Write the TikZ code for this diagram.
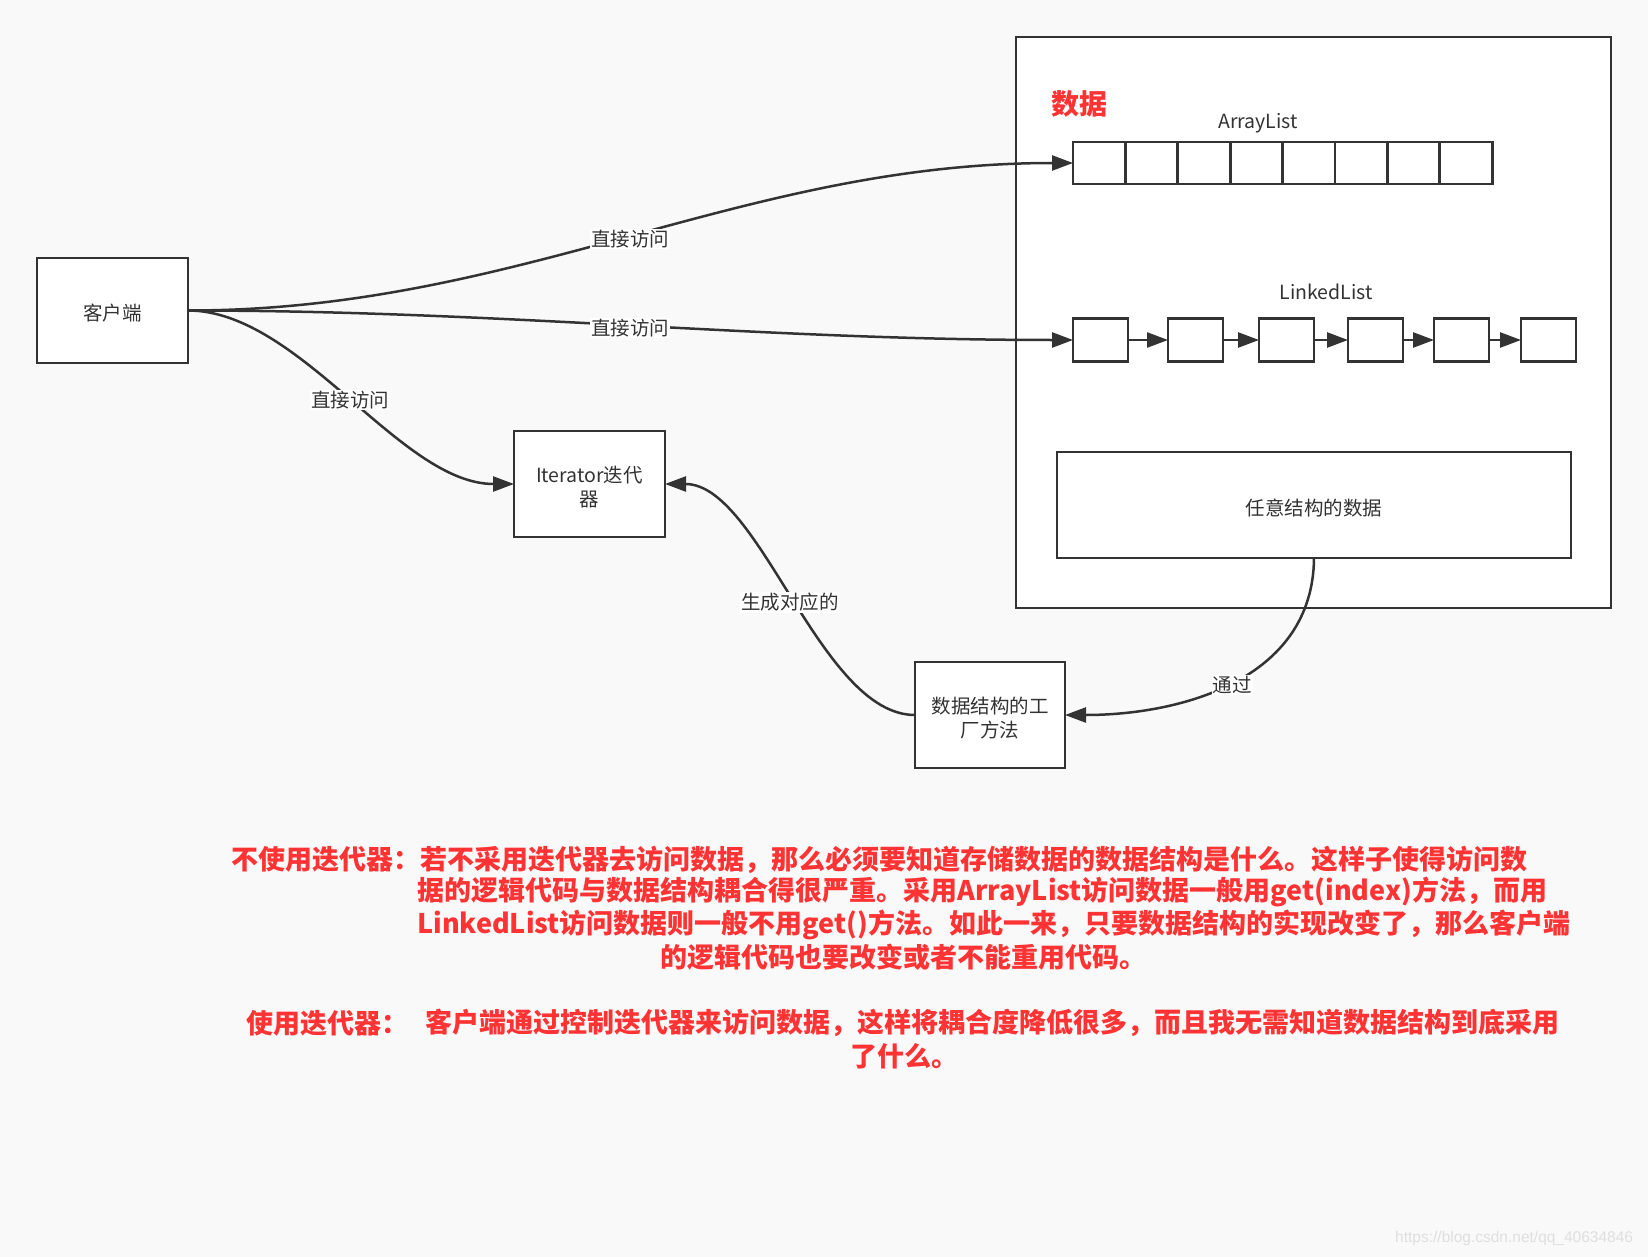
\documentclass[tikz,border=0pt]{standalone}
\usepackage{fontspec}
\setmainfont{Noto Sans CJK SC}
\newfontfamily\wmfont{Liberation Sans}
\usetikzlibrary{arrows.meta}
\definecolor{bgc}{HTML}{F9F9F9}
\definecolor{linec}{HTML}{333333}
\definecolor{redt}{HTML}{FF3333}
\newcommand\lowtxt[1]{\raisebox{-3pt}[\height][\depth]{#1}}
\begin{document}
\begin{tikzpicture}[x=1pt,y=-1pt,
  box/.style={draw=linec,fill=white,line width=2.9pt,inner sep=0pt,outer sep=0pt,
    font=\fontsize{19.5}{23.4}\selectfont,text=linec,align=center},
  cell/.style={draw=linec,fill=white,line width=2.9pt,inner sep=0pt,outer sep=0pt,
    minimum height=42pt},
  edge/.style={draw=linec,line width=2.5pt,-{Triangle[length=21pt,width=15pt]}},
  lab/.style={fill=white,inner sep=1pt,font=\fontsize{19.5}{23.4}\selectfont,text=linec},
  plain/.style={font=\fontsize{19.5}{23.4}\selectfont,text=linec,inner sep=0pt},
  redtext/.style={font=\fontsize{27}{32}\selectfont\bfseries,text=redt,inner sep=0pt,anchor=west}]
\useasboundingbox (0,0) rectangle (1648,1257);
\fill[bgc] (0,0) rectangle (1648,1257);

% data container
\node[box,minimum width=595pt,minimum height=571pt] (outer) at (1313.5,322.5) {};
\node[font=\fontsize{28}{32}\selectfont\bfseries,text=redt,inner sep=0pt,anchor=west] (title) at (1051,104) {数据};
\node[plain] (altitle) at (1258,123) {ArrayList};
\node[plain] (lltitle) at (1326,292) {LinkedList};

% ArrayList cells
\foreach \i in {1,...,8}{
  \node[cell,minimum width=52.4pt] (a\i) at ({1073+26.2+52.4*(\i-1)},163) {};
}
% LinkedList nodes
\foreach \x [count=\i] in {1073,1168,1259,1348,1434,1521}{
  \node[cell,minimum width=55pt,minimum height=43pt] (l\i) at ({\x+27.5},340) {};
}
\foreach \i/\j in {1/2,2/3,3/4,4/5,5/6}{
  \draw[edge] (l\i.east) -- (l\j.west);
}

\node[box,minimum width=514pt,minimum height=106pt] (any) at (1314,505) {\lowtxt{任意结构的数据}};

% other boxes
\node[box,minimum width=151pt,minimum height=105pt] (client) at (112.5,310.5) {\lowtxt{客户端}};
\node[box,minimum width=151pt,minimum height=106pt] (iter) at (589.5,484) {\lowtxt{Iterator迭代}\\\lowtxt{器}};
\node[box,minimum width=150pt,minimum height=106pt] (fact) at (990,715) {\lowtxt{数据结构的工}\\\lowtxt{厂方法}};

% connectors
\draw[edge] (client.east) .. controls (520,310.5) and (740,163) .. (a1.west)
  node[lab,pos=0.5,yshift=-2pt] (lb1) {直接访问};
\draw[edge] (client.east) .. controls (500,310.5) and (760,340) .. (l1.west)
  node[lab,pos=0.5,yshift=-3pt] (lb2) {直接访问};
\draw[edge] (client.east) .. controls (300,310.5) and (400,484) .. (iter.west)
  node[lab,pos=0.5,yshift=-3pt] (lb3) {直接访问};
\draw[edge] (fact.west) .. controls (820,715) and (760,484) .. (iter.east)
  node[lab,pos=0.5,yshift=-3pt] (lb4) {生成对应的};
\draw[edge] (any.south) .. controls (1313,680) and (1180,715) .. (fact.east)
  node[lab,pos=0.5,yshift=-3pt] (lb5) {通过};

% explanation text
\node[redtext] (t1) at (231,860) {不使用迭代器：若不采用迭代器去访问数据，那么必须要知道存储数据的数据结构是什么。这样子使得访问数};
\node[redtext] (t2) at (417,892) {据的逻辑代码与数据结构耦合得很严重。采用ArrayList访问数据一般用get(index)方法，而用};
\node[redtext] (t3) at (417,925) {LinkedList访问数据则一般不用get()方法。如此一来，只要数据结构的实现改变了，那么客户端};
\node[redtext] (t4) at (660,957) {的逻辑代码也要改变或者不能重用代码。};
\node[redtext] (t5) at (246,1023) {使用迭代器：};
\node[redtext] (t6) at (425,1023) {客户端通过控制迭代器来访问数据，这样将耦合度降低很多，而且我无需知道数据结构到底采用};
\node[redtext] (t7) at (850,1056) {了什么。};

% watermark
\node[font=\wmfont\fontsize{15.5}{18}\selectfont,text=gray!25,inner sep=0pt,anchor=west] (wm) at (1395,1238) {https://blog.csdn.net/qq\_40634846};
\end{tikzpicture}
\end{document}
